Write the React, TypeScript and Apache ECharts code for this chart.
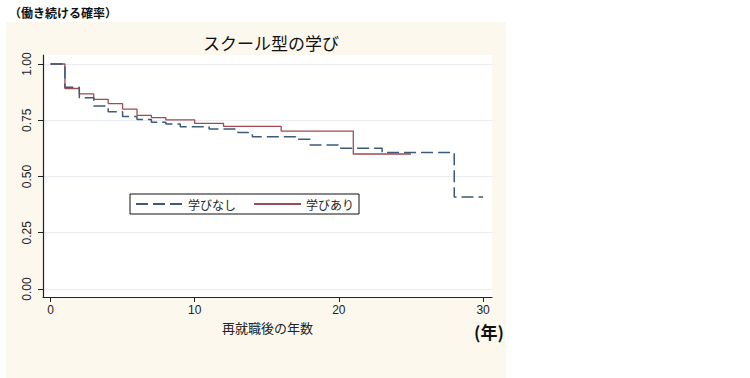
import React, { useEffect, useRef } from "react";
import * as echarts from "echarts";

// Kaplan–Meier style step curves (time in years, survival probability)
const timesNone = [0, 1, 2, 3, 4, 5, 6, 7, 8, 9, 11, 13, 14, 17, 18, 20, 23, 28, 30];
const survNone = [1.0, 0.897, 0.85, 0.813, 0.788, 0.767, 0.753, 0.741, 0.733, 0.721, 0.711, 0.695, 0.677, 0.665, 0.64, 0.625, 0.607, 0.409, 0.409];

const timesAri = [0, 1, 2, 3, 4, 5, 6, 7, 8, 10, 12, 16, 21, 25];
const survAri = [1.0, 0.891, 0.867, 0.843, 0.824, 0.799, 0.772, 0.762, 0.752, 0.736, 0.723, 0.702, 0.6, 0.6];

const xTicks = [0, 10, 20, 30];
const yTicks = [0, 0.25, 0.5, 0.75, 1.0];

const seriesNames = ["学びなし", "学びあり"];
const titleText = "スクール型の学び";
const xAxisName = "再就職後の年数";
const yCaption = "（働き続ける確率）";
const unitText = "(年)";

const CJK = "'Noto Sans CJK JP', 'Noto Sans', sans-serif";
const NUM = "'Liberation Sans Narrow', 'Liberation Sans', Arial, sans-serif";

export default function App() {
  const ref = useRef<HTMLDivElement>(null);

  useEffect(() => {
    if (!ref.current) return;
    const chart = echarts.init(ref.current, undefined, { renderer: "svg" });
    const noneData = timesNone.map((t, i) => [t, survNone[i]]);
    const ariData = timesAri.map((t, i) => [t, survAri[i]]);

    chart.setOption({
      animation: false,
      backgroundColor: "#ffffff",
      title: {
        text: titleText,
        left: 266,
        top: 29,
        textAlign: "center",
        textStyle: { fontFamily: CJK, fontSize: 17, fontWeight: "normal", color: "#111" },
      },
      graphic: [
        {
          type: "rect",
          z: -100,
          silent: true,
          shape: { x: 6, y: 22, width: 500, height: 356 },
          style: { fill: "#fdf8ee" },
        },
        {
          type: "text",
          left: 9,
          top: 6,
          style: { text: yCaption, font: `bold 12px ${CJK}`, fill: "#111" },
        },
        {
          type: "text",
          left: 474,
          top: 323,
          style: { text: unitText, font: `bold 17px ${CJK}`, fill: "#111" },
        },
      ],
      legend: {
        left: 130,
        top: 194,
        orient: "horizontal",
        data: seriesNames,
        backgroundColor: "#ffffff",
        borderColor: "#111",
        borderWidth: 1,
        borderRadius: 0,
        padding: [4, 5],
        itemWidth: 47,
        itemHeight: 12,
        itemGap: 17,
        itemStyle: { opacity: 0 },
        textStyle: { fontFamily: CJK, fontSize: 12, color: "#222" },
      },
      grid: {
        left: 43,
        right: 258,
        top: 55,
        bottom: 81,
        show: true,
        backgroundColor: "#ffffff",
        borderWidth: 0,
      },
      xAxis: {
        type: "value",
        min: -0.52,
        max: 30.62,
        name: xAxisName,
        nameLocation: "middle",
        nameGap: 20,
        nameTextStyle: { fontFamily: CJK, fontSize: 13, color: "#222" },
        axisLine: { show: true, onZero: false, lineStyle: { color: "#222", width: 1.2 } },
        axisTick: { show: true, length: 5, customValues: xTicks, lineStyle: { color: "#222" } },
        axisLabel: {
          customValues: xTicks,
          margin: 7,
          fontFamily: NUM,
          fontSize: 12,
          color: "#222",
          formatter: (v: number) => String(v),
        },
        splitLine: { show: false },
      },
      yAxis: {
        type: "value",
        min: -0.0356,
        max: 1.04,
        axisLine: { show: true, onZero: false, lineStyle: { color: "#222", width: 1.2 } },
        axisTick: { show: true, length: 5, customValues: yTicks, lineStyle: { color: "#222" } },
        axisLabel: {
          customValues: yTicks,
          rotate: 90,
          margin: 10,
          fontFamily: NUM,
          fontSize: 12,
          color: "#222",
          formatter: (v: number) => v.toFixed(2),
        },
        splitLine: { show: true, lineStyle: { color: "#eaeef2", width: 1 } },
      },
      series: [
        {
          name: seriesNames[0],
          type: "line",
          step: "end",
          symbol: "none",
          data: noneData,
          lineStyle: { color: "#3d5a78", width: 1.5, type: [12, 5] },
          itemStyle: { color: "#3d5a78" },
          z: 3,
        },
        {
          name: seriesNames[1],
          type: "line",
          step: "end",
          symbol: "none",
          data: ariData,
          lineStyle: { color: "#a04a55", width: 1.3 },
          itemStyle: { color: "#a04a55" },
          z: 2,
        },
      ],
    });
    return () => chart.dispose();
  }, []);

  return (
    <div
      ref={ref}
      style={{ position: "fixed", left: 0, top: 0, width: 750, height: 378 }}
    />
  );
}
